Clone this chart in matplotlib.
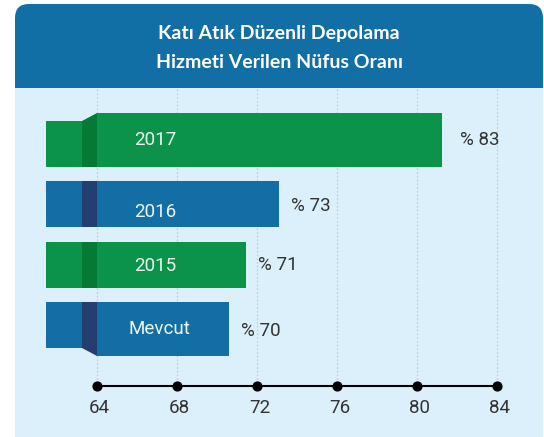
import matplotlib
matplotlib.use("Agg")
import matplotlib.pyplot as plt
from matplotlib.patches import FancyBboxPatch, Rectangle, Polygon

matplotlib.rcParams["font.family"] = ["Lato", "DejaVu Sans"]
LIGHT = ["Roboto", "DejaVu Sans"]

# data
categories = ["2017", "2016", "2015", "Mevcut"]
value_labels = ["% 83", "% 73", "% 71", "% 70"]
bar_ends = [81.23, 73.1, 71.45, 70.6]   # where the drawn bars stop on the axis
ticks = [64, 68, 72, 76, 80, 84]

colors = ["#0a9349", "#146ea6", "#0a9349", "#146ea6"]
fold_colors = ["#047a35", "#233f6f", "#047a35", "#233f6f"]

W, H = 544, 437
fig = plt.figure(figsize=(W / 100, H / 100), dpi=100)

# background panel in pixel coordinates
bg = fig.add_axes([0, 0, 1, 1])
bg.set_xlim(0, W)
bg.set_ylim(H, 0)
bg.axis("off")
bg.add_patch(FancyBboxPatch((15, 4), 528, 445, boxstyle="round,pad=0,rounding_size=14",
                            fc="#dcf0fb", ec="none"))
bg.add_patch(FancyBboxPatch((15, 4), 528, 110, boxstyle="round,pad=0,rounding_size=14",
                            fc="#126fa5", ec="none"))
bg.add_patch(Rectangle((15, 88), 528, 40, fc="#dcf0fb", ec="none"))
bg.text(279, 34, "Katı Atık Düzenli Depolama", color="white", fontsize=14,
        fontweight="bold", ha="center", va="center")
bg.text(279, 62, "Hizmeti Verilen Nüfus Oranı", color="white", fontsize=14,
        fontweight="bold", ha="center", va="center")

# chart: x in data units (20 px per unit, 64 at px 97), y in pixels from top
ax = fig.add_axes([0, 0, 1, 1])
ax.set_xlim(64 - 97 / 20, 64 + (W - 97) / 20)
ax.set_ylim(H, 0)
ax.axis("off")
ax.patch.set_alpha(0)

stub_left = 61.45
fold_left = 63.25
axis_y = 386

for t in ticks:
    ax.plot([t, t], [89, axis_y], color="#c3cdd6", lw=0.9, ls=(0, (1.5, 1.5)), zorder=1)

band_top = [121, 181, 242, 302]
band_h = 46
main_top = [113, 181, 242, 302]
main_h = [54, 46, 46, 54]

for i in range(len(categories)):
    top = band_top[i]
    ax.barh(top + band_h / 2, fold_left - stub_left, left=stub_left, height=band_h,
            color=colors[i], zorder=2)
    ax.barh(main_top[i] + main_h[i] / 2, bar_ends[i] - 64, left=64, height=main_h[i],
            color=colors[i], zorder=2)
    mt, mb = main_top[i], main_top[i] + main_h[i]
    fold = Polygon([(fold_left, top), (64, mt), (64, mb), (fold_left, top + band_h)],
                   closed=True, fc=fold_colors[i], ec="none", zorder=3)
    ax.add_patch(fold)

text_y = [140, 212, 266, 329]
value_off = [0.9, 0.6, 0.6, 0.6]
value_y = [140, 206, 265, 331]
for i, cat in enumerate(categories):
    ax.text(66.9 if cat != "Mevcut" else 67.1, text_y[i], cat, color="#eef7f1",
            fontsize=13.5, family=LIGHT,
            ha="center", va="center", zorder=4)
    ax.text(bar_ends[i] + value_off[i], value_y[i], value_labels[i], color="#333333",
            fontsize=13.5, family=LIGHT,
            ha="left", va="center", zorder=4)

# axis line with dots
ax.plot([ticks[0], ticks[-1]], [axis_y, axis_y], color="black", lw=1.5, zorder=4)
ax.scatter(ticks, [axis_y] * len(ticks), s=40, color="black", zorder=5)
for t in ticks:
    ax.text(t + 0.12, 408, str(t), color="#333333", fontsize=13.5,
            family=LIGHT, ha="center", va="center")

fig.savefig("out.png", dpi=100)
